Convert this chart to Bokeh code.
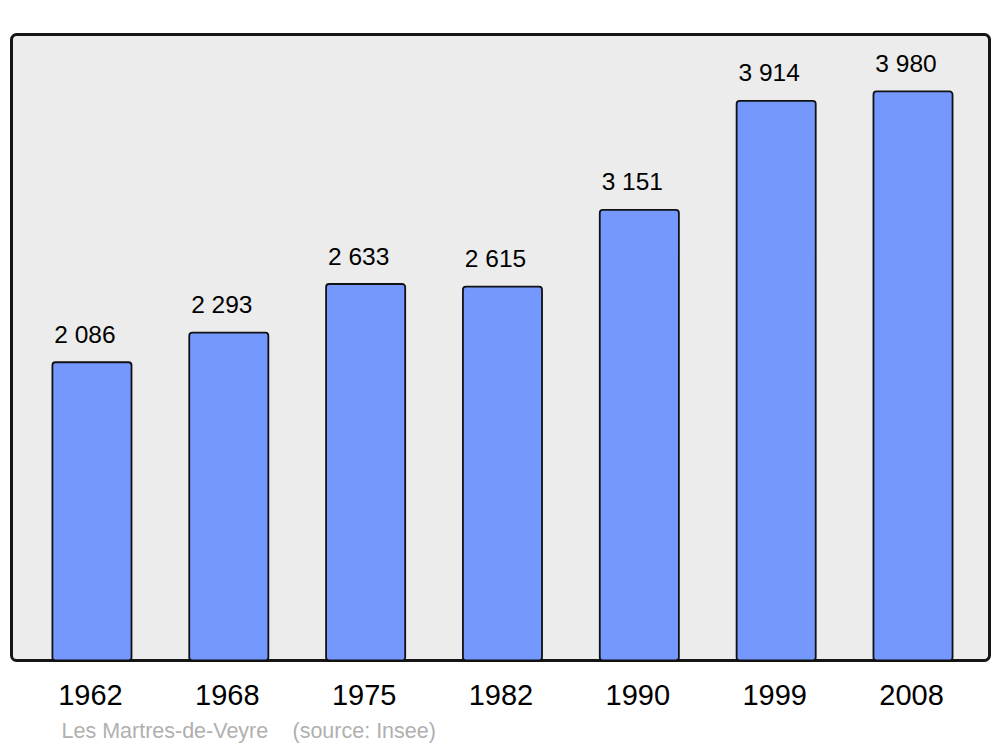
from bokeh.plotting import figure
from bokeh.models import ColumnDataSource, Range1d
from bokeh.embed import file_html
from bokeh.resources import INLINE
from bokeh.core.properties import value

years = ["1962", "1968", "1975", "1982", "1990", "1999", "2008"]
population = [2086, 2293, 2633, 2615, 3151, 3914, 3980]
pop_labels = ["2 086", "2 293", "2 633", "2 615", "3 151", "3 914", "3 980"]
source_texts = ["Les Martres-de-Veyre", "(source: Insee)"]

FONT = "Liberation Sans"
xs = list(range(len(years)))
YMAX = max(population) * 1.1

# frame of the chart in data units; the canvas extends a little around it
X0, X1 = -0.588, 6.559
PX_X = 978 / (X1 - X0)
PX_Y = 626 / YMAX

src = ColumnDataSource(dict(x=xs, top=population, lab=pop_labels, yr=years))

p = figure(width=1000, height=747, output_backend="svg", toolbar_location=None,
           x_range=Range1d(X0 - 11 / PX_X, X1 + 11 / PX_X),
           y_range=Range1d(-87 / PX_Y, YMAX + 34 / PX_Y),
           min_border=0)
p.border_fill_color = "white"
p.background_fill_color = "white"
p.outline_line_color = None
p.grid.visible = False
p.axis.visible = False

# plot area box with rounded corners
p.quad(left=[X0], right=[X1], bottom=[0], top=[YMAX],
       fill_color="#ececec", line_color="#151515", line_width=3, border_radius=5)

p.vbar(x="x", top="top", bottom=0, width=0.578, source=src,
       fill_color="#7598ff", line_color="#111111", line_width=1.8, border_radius=3)

p.text(x="x", y="top", text="lab", source=src, y_offset=-28, x_offset=-7,
       text_align="center", text_baseline="middle",
       text_font=value(FONT), text_font_size="24.5px", text_color="#000000")

p.text(x="x", y=0, text="yr", source=src, y_offset=34, x_offset=-1.5,
       text_align="center", text_baseline="middle",
       text_font=value(FONT), text_font_size="29px", text_color="#000000")

p.text(x=[X0, X0], y=[0, 0], text=source_texts, x_offset=[50, 281], y_offset=70,
       text_align="left", text_baseline="middle",
       text_font=value(FONT), text_font_size="21.5px", text_color="#b0b0b0")

open("out.html", "w").write(file_html(p, INLINE))
